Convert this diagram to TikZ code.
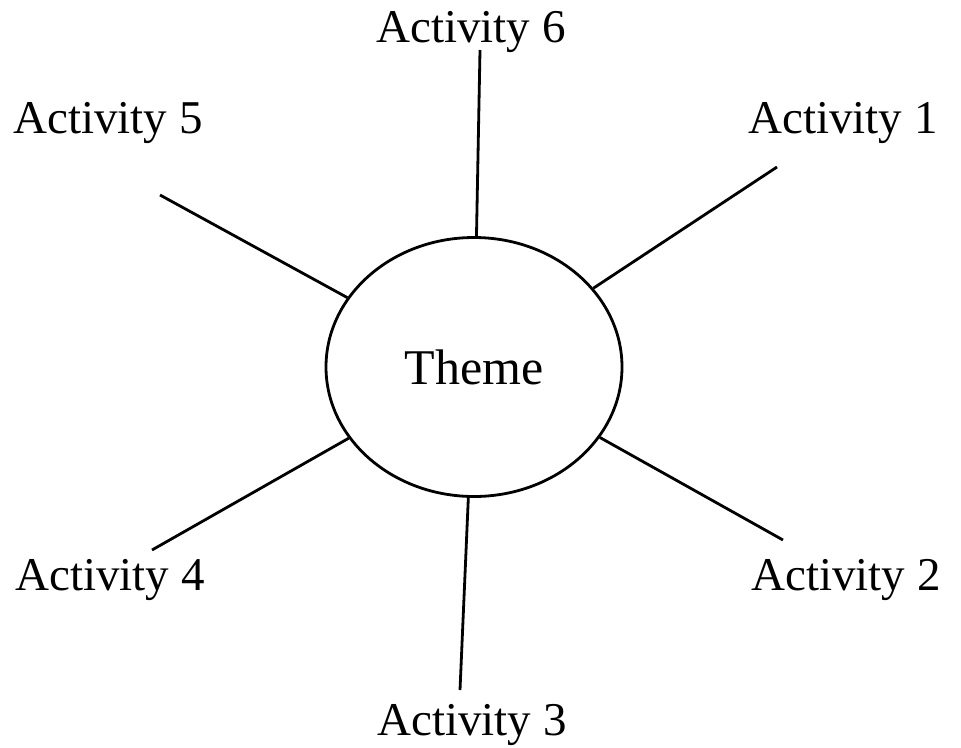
\documentclass[tikz,border=0pt]{standalone}
\usepackage{fontspec}
\setmainfont{Liberation Serif}
\usepackage{tikz}
\usetikzlibrary{shapes.geometric}

\begin{document}
\begin{tikzpicture}[x=1pt, y=-1pt, line width=2.8pt,
    T node/.style={ellipse, draw, minimum width=296pt, minimum height=259pt, inner sep=0pt, font=\fontsize{50}{58}\selectfont},
    A node/.style={anchor=base, inner sep=0pt, font=\fontsize{47}{56}\selectfont}]
    \useasboundingbox (0,0) rectangle (961,747);

    \node[T node] (theme) at (474,367) {Theme};

    \node[A node] (a6) at (471,42) {Activity 6};
    \node[A node] (a5) at (108,133) {Activity 5};
    \node[A node] (a1) at (843,133) {Activity 1};
    \node[A node] (a4) at (110,590) {Activity 4};
    \node[A node] (a2) at (846,590) {Activity 2};
    \node[A node] (a3) at (472,735) {Activity 3};

    \coordinate (c6) at (480,50);
    \coordinate (c5) at (160,195);
    \coordinate (c1) at (777,167);
    \coordinate (c4) at (152,550);
    \coordinate (c2) at (783,540);
    \coordinate (c3) at (460,690);

    \path
    (c6) edge (theme)
    (c5) edge (theme)
    (c1) edge (theme)
    (c4) edge (theme)
    (c2) edge (theme)
    (c3) edge (theme)
    ;
\end{tikzpicture}
\end{document}
